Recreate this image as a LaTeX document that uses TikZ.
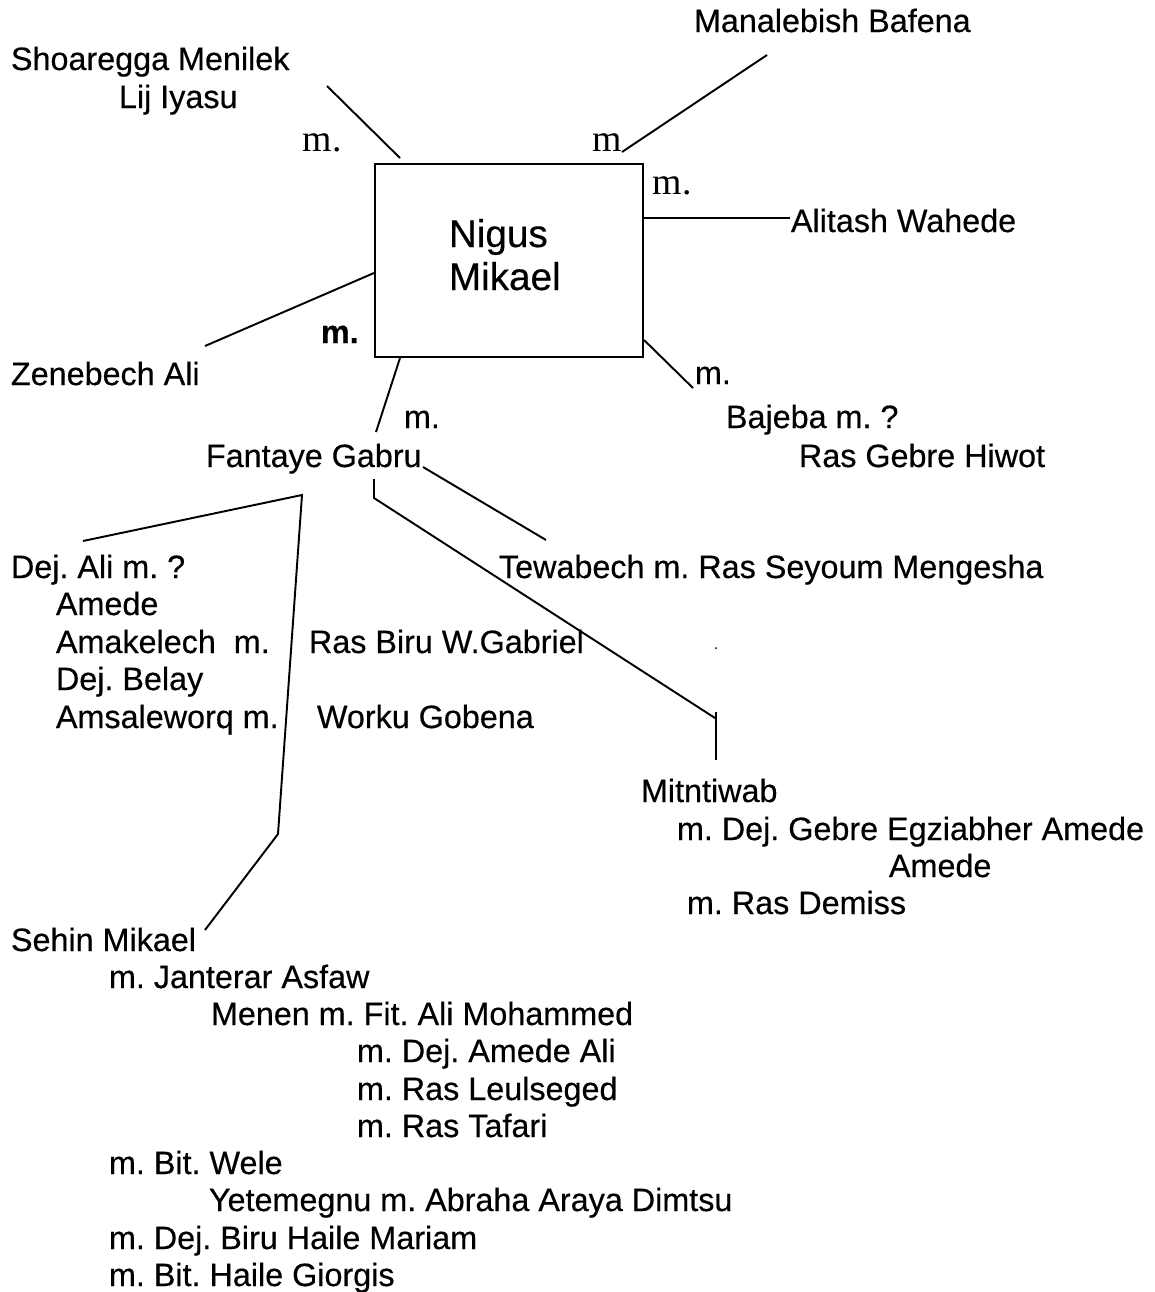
\documentclass[tikz,border=0pt]{standalone}
\usepackage{fontspec}
\setmainfont{Liberation Sans}[FakeBold=0.4]
\newfontfamily\serifm{Liberation Serif}
\usepackage{tikz}
\frenchspacing

\begin{document}
\begin{tikzpicture}[x=0.02cm, y=-0.02cm, line width=1.1pt,
    person/.style={anchor=base west, inner sep=0pt, font=\fontsize{18.4}{22}\selectfont},
    wedm/.style={anchor=base west, inner sep=0pt, font=\serifm\fontsize{21.5}{24}\selectfont},
    wedb/.style={anchor=base west, inner sep=0pt, font=\bfseries\fontsize{18.4}{22}\selectfont}]
    \useasboundingbox (0,0) rectangle (1155,1292);

    % the box
    \node[draw, line width=1.2pt, minimum width=5.36cm, minimum height=3.86cm] (nigus) at (509,260.5) {};
    \node[person, font=\fontsize{22}{24}\selectfont] (nigus1) at (448,247) {Nigus};
    \node[person, font=\fontsize{22}{24}\selectfont] (nigus2) at (448,290) {Mikael};

    % wives
    \node[person] (manalebish) at (693,32) {Manalebish Bafena};
    \node[person] (shoaregga) at (10,70) {Shoaregga Menilek};
    \node[person] (iyasu) at (118,108) {Lij Iyasu};
    \node[person] (alitash) at (790,232) {Alitash Wahede};
    \node[person] (zenebech) at (10,385) {Zenebech Ali};
    \node[person] (fantaye) at (205,467) {Fantaye Gabru};
    \node[person] (bajeba) at (725,428) {Bajeba m. ?};
    \node[person] (gebrehiwot) at (798,467) {Ras Gebre Hiwot};

    \node[wedm] (m1) at (302,151) {m.};
    \node[wedm] (m2) at (592,151) {m};
    \node[wedm] (m3) at (652,194) {m.};
    \node[wedb] (m4) at (320,343) {m.};
    \node[person] (m5) at (403,428) {m.};
    \node[person] (m6) at (694,384) {m.};

    \coordinate (shoa-end) at (327,86);
    \coordinate (mana-end) at (767,55);
    \coordinate (zene-end) at (205,346);
    \coordinate (fant-end) at (376,432);
    \coordinate (baje-end) at (693,388);

    \draw (shoa-end) -- (400,158);
    \draw (mana-end) -- (622,152);
    \draw (nigus.east |- 0,218) -- (alitash.west |- 0,218);
    \draw (zene-end) -- (nigus.west |- 0,273);
    \draw (nigus.south -| 400,0) -- (fant-end);
    \draw (nigus.east |- 0,340) -- (baje-end);

    % children of Fantaye
    \node[person] (dejali) at (10,578) {Dej. Ali m. ?};
    \node[person] (amede) at (55,615) {Amede};
    \node[person] (amakelech) at (55,653) {Amakelech\ \ m.};
    \node[person] (rasbiru) at (308,653) {Ras Biru W.Gabriel};
    \node[person] (belay) at (55,690) {Dej. Belay};
    \node[person] (amsaleworq) at (55,728) {Amsaleworq m.};
    \node[person] (worku) at (316,728) {Worku Gobena};
    \node[person] (tewabech) at (498,578) {Tewabech m. Ras Seyoum Mengesha};

    \node[person] (mitntiwab) at (640,802) {Mitntiwab};
    \node[person] (gebreegz) at (676,840) {m. Dej. Gebre Egziabher Amede};
    \node[person] (amede2) at (888,877) {Amede};
    \node[person] (demiss) at (686,914) {m. Ras Demiss};

    \node[person] (sehin) at (10,951) {Sehin Mikael};
    \node[person] (janterar) at (108,988) {m. Janterar Asfaw};
    \node[person] (menen) at (210,1025) {Menen m. Fit. Ali Mohammed};
    \node[person] (amedeali) at (356,1062) {m. Dej. Amede Ali};
    \node[person] (leulseged) at (356,1100) {m. Ras Leulseged};
    \node[person] (tafari) at (356,1137) {m. Ras Tafari};
    \node[person] (wele) at (108,1174) {m. Bit. Wele};
    \node[person] (yetemegnu) at (208,1211) {Yetemegnu m. Abraha Araya Dimtsu};
    \node[person] (birumariam) at (108,1249) {m. Dej. Biru Haile Mariam};
    \node[person] (hailegiorgis) at (108,1286) {m. Bit. Haile Giorgis};

    \coordinate (tewa-start) at (423,467);
    \coordinate (tewa-end) at (546,540);
    \coordinate (mitn-top) at (374,479);
    \coordinate (mitn-bend) at (374,498);
    \coordinate (mitn-end) at (715,718);
    \coordinate (ali-end) at (83,541);
    \coordinate (ali-top) at (302,495);
    \coordinate (sehin-bend) at (278,834);
    \coordinate (sehin-end) at (205,930);

    \draw (tewa-start) -- (tewa-end);
    \draw (mitn-top) -- (mitn-bend) -- (mitn-end);
    \draw (716,712) -- (716,760);
    \draw (ali-end) -- (ali-top) -- (sehin-bend) -- (sehin-end);
    \fill (716,648) circle[radius=1];
\end{tikzpicture}
\end{document}
